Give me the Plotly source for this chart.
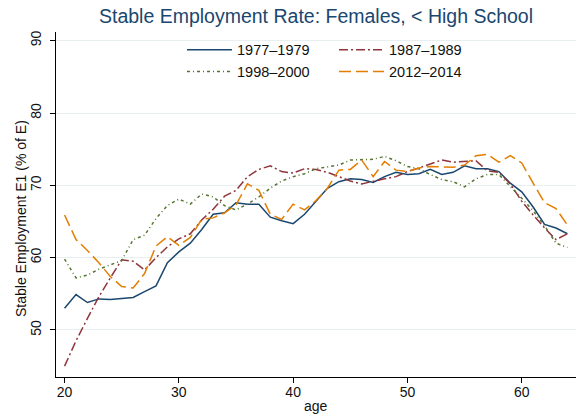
import plotly.graph_objects as go

ages = list(range(20, 65))

s1977 = [53.0, 54.9, 53.8, 54.3, 54.2, 54.3, 54.5, 55.3, 56.1, 59.3,
         60.8, 62.0, 63.9, 66.0, 66.2, 67.6, 67.4, 67.4, 65.6, 65.1,
         64.7, 66.0, 67.8, 69.6, 70.5, 70.9, 70.8, 70.4, 71.2, 71.8,
         71.5, 71.6, 72.2, 71.5, 71.8, 72.7, 72.3, 72.3, 71.9, 70.3,
         69.1, 67.0, 64.6, 64.1, 63.3]

s1987 = [45.0, 48.5, 51.6, 54.6, 57.2, 59.7, 59.5, 58.3, 60.0, 61.5,
         62.6, 63.3, 65.2, 66.7, 68.5, 69.3, 71.2, 72.2, 72.7, 71.9,
         71.7, 72.3, 72.2, 71.8, 71.2, 70.6, 70.2, 70.6, 70.9, 71.2,
         71.9, 72.4, 73.0, 73.5, 73.2, 73.3, 73.4, 72.0, 71.8, 70.2,
         67.8, 65.9, 64.1, 62.5, 63.3]

s1998 = [59.8, 57.2, 57.6, 58.4, 59.0, 59.6, 62.5, 63.1, 65.4, 67.2,
         68.1, 67.4, 68.8, 68.4, 67.2, 66.6, 67.4, 68.4, 69.6, 70.6,
         71.2, 71.6, 72.3, 72.6, 72.8, 73.5, 73.5, 73.6, 74.0, 73.4,
         72.6, 72.3, 71.5, 70.8, 70.5, 69.8, 70.9, 71.5, 71.5, 69.9,
         68.2, 66.5, 64.4, 62.0, 61.4]

s2012 = [65.9, 62.5, 61.0, 59.3, 57.4, 56.0, 55.8, 57.8, 61.6, 62.9,
         61.7, 62.8, 65.3, 65.5, 66.2, 67.3, 70.2, 69.3, 66.0, 65.3,
         67.4, 66.6, 67.9, 69.6, 72.1, 72.2, 73.5, 71.2, 73.3, 72.1,
         71.9, 72.4, 72.6, 72.6, 72.5, 72.8, 74.1, 74.3, 73.2, 74.1,
         73.1, 70.3, 67.6, 66.8, 64.5]

x_ticks = [20, 30, 40, 50, 60]
y_ticks = [50, 60, 70, 80, 90]

series = [
    ("1977\u20131979", s1977, "#1a476f", "solid", "legend"),
    ("1987\u20131989", s1987, "#90353b", "9px,3px,2px,3px", "legend2"),
    ("1998\u20132000", s1998, "#55752f", "3px,3px,1px,3px", "legend"),
    ("2012\u20132014", s2012, "#e37e00", "12px,5px", "legend2"),
]

fig = go.Figure()
for name, vals, color, dash, lg in series:
    fig.add_trace(go.Scatter(
        x=ages, y=vals, mode="lines", name=name,
        line=dict(color=color, width=1.5, dash=dash),
        legend=lg,
    ))

font_family = "Liberation Sans, Arial, Helvetica, sans-serif"
W, H = 579, 417
L, R, T, B = 56, 3, 32, 40
pw, ph = W - L - R, H - T - B

fig.update_layout(
    width=W, height=H,
    margin=dict(l=L, r=R, t=T, b=B, autoexpand=False),
    paper_bgcolor="white", plot_bgcolor="white",
    font=dict(family=font_family, size=14, color="#111111"),
    title=dict(text="Stable Employment Rate: Females, < High School",
               x=0.5, xref="paper", xanchor="center",
               y=1 - 16 / H, yref="container", yanchor="middle",
               font=dict(size=19.5, color="#1a476f", family=font_family)),
    legend=dict(x=(182 - L) / pw, y=0.995, xanchor="left", yanchor="top",
                orientation="v", bgcolor="rgba(0,0,0,0)",
                font=dict(size=14.5, color="#111111"), tracegroupgap=0,
                itemwidth=45),
    legend2=dict(x=(334 - L) / pw, y=0.995, xanchor="left", yanchor="top",
                 orientation="v", bgcolor="rgba(0,0,0,0)",
                 font=dict(size=14.5, color="#111111"), tracegroupgap=0,
                 itemwidth=45),
    xaxis=dict(range=[19.25, 64.75], tickvals=x_ticks,
               ticks="outside", ticklen=5, tickcolor="black",
               showline=True, linecolor="black", linewidth=1,
               showgrid=False, zeroline=False, automargin=False,
               ticklabelstandoff=-3,
               tickfont=dict(size=14)),
    yaxis=dict(range=[43.5, 91.2], tickvals=y_ticks,
               ticks="outside", ticklen=5, tickcolor="black",
               showline=True, linecolor="black", linewidth=1,
               showgrid=True, gridcolor="#e8eff0", gridwidth=1,
               zeroline=False, tickangle=-90, automargin=False,
               ticklabelstandoff=3,
               tickfont=dict(size=14)),
    annotations=[
        dict(text="age", xref="paper", yref="paper",
             x=0.5, y=(T + ph - 406) / ph,
             xanchor="center", yanchor="middle", showarrow=False,
             font=dict(size=14, color="#111111")),
        dict(text="Stable Employment E1 (% of E)", xref="paper", yref="paper",
             x=(21 - L) / pw, y=(T + ph - 219) / ph, textangle=-90,
             xanchor="center", yanchor="middle", showarrow=False,
             font=dict(size=14, color="#111111")),
    ],
)

fig.write_html("out.html",
               config={"displayModeBar": False},
               post_script="document.body.style.margin='0';"
                           "document.body.style.padding='0';")
